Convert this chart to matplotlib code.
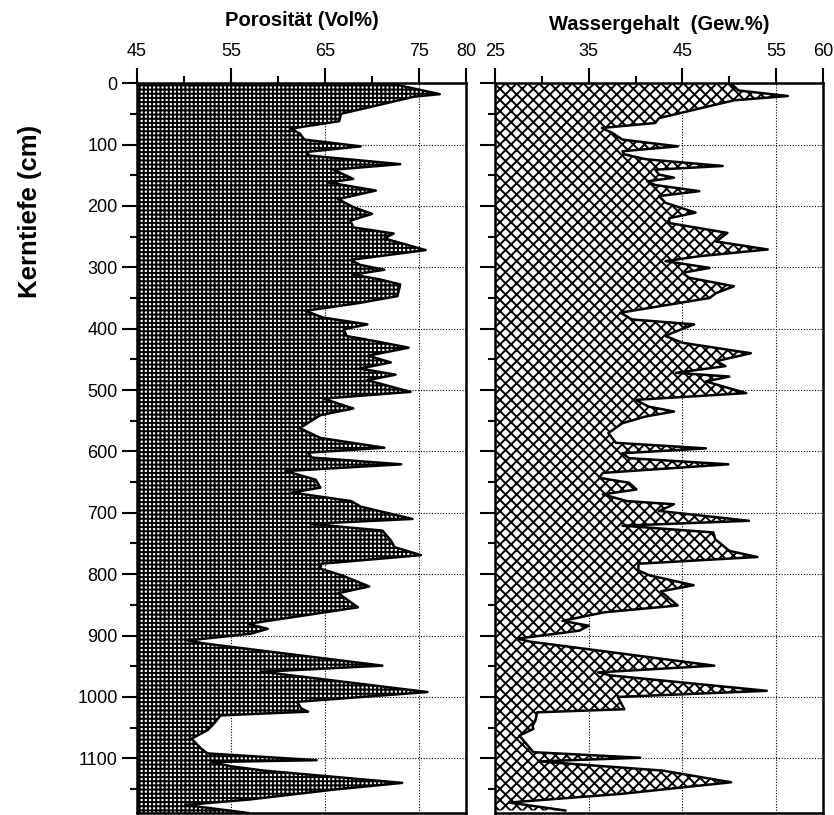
import numpy as np
import matplotlib
matplotlib.use("Agg")
import matplotlib.pyplot as plt
from matplotlib.ticker import MultipleLocator, FixedLocator

plt.rcParams['font.family'] = ['Liberation Sans', 'DejaVu Sans']
plt.rcParams['hatch.linewidth'] = 1.4

# Porositaet (Vol%) ueber Kerntiefe (cm)
por_depth = [0, 4, 18, 22, 50, 62, 74, 82, 92, 103, 112, 118, 132, 141, 156, 162,
             175, 189, 202, 213, 224, 235, 245, 253, 272, 288, 296, 304, 312, 320, 328,
             347, 358, 371, 382, 393, 401, 412, 420, 431, 444, 455, 465, 475, 484, 503,
             514, 530, 541, 562, 578, 594, 602, 610, 621, 632, 646, 659, 667, 681, 690,
             710, 718, 729, 745, 756, 769, 783, 791, 802, 820, 831, 854, 881, 889, 897,
             908, 913, 949, 959, 962, 992, 1008, 1019, 1024, 1030, 1043, 1054, 1068, 1084,
             1092, 1103, 1106, 1113, 1120, 1140, 1151, 1167, 1176, 1180, 1189]
por_value = [72.3, 73.0, 77.2, 74.5, 66.7, 66.5, 61.4, 62.3, 62.8, 68.8, 63.1, 63.3, 73.0,
             65.9, 68.0, 65.4, 70.4, 66.4, 68.0, 70.0, 67.7, 68.0, 72.3, 71.3,
             75.7, 67.7, 68.7, 71.3, 68.0, 70.9, 73.0, 72.7, 68.7, 62.9, 64.8, 69.5, 67.0,
             67.3, 70.2, 73.9, 69.6, 72.0, 68.7, 72.5, 69.5, 74.1, 64.8, 68.0, 64.5, 62.3,
             64.5, 71.3, 63.2, 63.6, 73.1, 60.8, 64.0, 64.5, 61.5, 67.8, 68.8, 74.3, 63.4,
             71.1, 72.0, 72.4, 75.2, 64.6, 64.5, 66.8, 69.7, 66.4, 68.5, 56.8, 58.9, 57.1,
             50.4, 52.2, 71.1, 58.2, 59.9, 75.9, 62.0, 62.5, 63.2, 53.9, 53.2, 52.5, 50.8,
             51.8, 52.5, 64.1, 52.9, 55.0, 58.5, 73.2, 65.9, 57.0, 50.1, 52.2, 56.8]

# Wassergehalt (Gew.%) ueber Kerntiefe (cm)
was_depth = [0, 5, 12, 21, 28, 57, 65, 73, 81, 92, 103, 111, 116, 124, 135, 141, 149, 154,
             160, 166, 176, 184, 195, 211, 220, 228, 244, 258, 271, 282, 290, 301, 309,
             317, 331, 342, 350, 374, 385, 393, 407, 412, 423, 440, 453, 461, 472, 478,
             486, 505, 516, 527, 535, 543, 554, 570, 586, 595, 603, 611, 621, 635, 643,
             651, 662, 670, 681, 686, 697, 713, 721, 732, 743, 753, 762, 772, 783, 794,
             802, 818, 828, 851, 862, 876, 884, 892, 905, 910, 949, 960, 965, 990, 1000,
             1020, 1025, 1039, 1047, 1052, 1063, 1090, 1099, 1105, 1120, 1139, 1158, 1172,
             1185]
was_value = [50.0, 50.5, 51.0, 56.25, 50.5, 42.5, 42.1, 36.4, 37.5, 38.6, 44.5, 38.6, 38.8,
             41.1, 49.3, 42.1, 42.5, 44.1, 41.25, 42.1, 46.8, 42.5, 43.2, 46.4, 43.6, 43.6,
             49.8, 48.6, 54.1, 46.8, 43.2, 47.9, 45.0, 45.7, 50.5, 48.6, 47.9, 38.4, 39.6,
             46.25, 43.9, 43.2, 45.0, 52.3, 48.6, 49.6, 44.3, 50.0, 47.5, 51.8, 40.0, 41.4,
             44.1, 41.1, 38.6, 37.1, 37.9, 47.5, 38.6, 39.3, 49.9, 36.5, 36.1, 39.3, 40.1,
             36.5, 39.1, 44.1, 42.5, 52.1, 38.6, 48.3, 48.5, 49.3, 50.0, 53.0, 40.3, 40.3,
             41.5, 46.2, 42.7, 44.5, 36.7, 32.2, 35.0, 34.0, 27.4, 28.8, 48.4, 36.0, 37.4,
             54.0, 38.1, 38.8, 29.5, 29.3, 29.0, 29.1, 27.6, 29.1, 40.5, 29.6, 42.9, 50.2,
             38.4, 26.5, 32.5]

por_ticks = [45, 55, 65, 75, 80]
was_ticks = [25, 35, 45, 55, 60]
depth_max = 1189

fig = plt.figure(figsize=(8.34, 8.15), dpi=100)
ax1 = fig.add_axes([0.1643, 0.0025, 0.3945, 0.8955])
ax2 = fig.add_axes([0.5935, 0.0025, 0.3933, 0.8955])


def style_axis(ax, ticks, title, show_labels, tpad):
    ax.set_xlim(ticks[0], ticks[-1])
    ax.set_ylim(depth_max, 0)
    ax.xaxis.set_ticks_position('top')
    ax.xaxis.set_label_position('top')
    ax.xaxis.set_major_locator(FixedLocator(ticks))
    ax.xaxis.set_minor_locator(FixedLocator([t + 5 for t in ticks[:3]]))
    ax.yaxis.set_major_locator(MultipleLocator(100))
    ax.yaxis.set_minor_locator(MultipleLocator(50))
    ax.tick_params(axis='both', which='major', direction='out', length=11, width=1.5,
                   labelsize=13)
    ax.tick_params(axis='x', which='major', pad=6)
    ax.tick_params(axis='y', which='major', pad=3)
    ax.tick_params(axis='both', which='minor', direction='out', length=5, width=1.5)
    ax.tick_params(axis='y', which='both', right=False, labelleft=show_labels)
    ax.tick_params(axis='x', which='both', bottom=False)
    for s in ax.spines.values():
        s.set_linewidth(1.8)
    ax.set_axisbelow(True)
    ax.grid(True, which='major', linestyle=(0, (1, 1.5)), color='black', linewidth=0.8)
    ax.set_xlabel(title, fontsize=14.5, fontweight='bold', labelpad=tpad)


ax1.fill_betweenx(por_depth, 45, por_value, facecolor='white', edgecolor='black',
                  hatch='++++', linewidth=0, zorder=1)
ax1.plot(por_value, por_depth, color='black', linewidth=1.8, zorder=2)
style_axis(ax1, por_ticks, 'Porosität (Vol%)', True, 12)

ax2.fill_betweenx(was_depth, 25, was_value, facecolor='white', edgecolor='black',
                  hatch='xxx', linewidth=0, zorder=1)
ax2.plot(was_value, was_depth, color='black', linewidth=1.8, zorder=2)
style_axis(ax2, was_ticks, 'Wassergehalt  (Gew.%)', False, 9)

fig.text(0.036, 0.74, 'Kerntiefe (cm)', rotation=90, fontsize=18.5, fontweight='bold',
         ha='center', va='center')

fig.savefig('out.png', dpi=100)
